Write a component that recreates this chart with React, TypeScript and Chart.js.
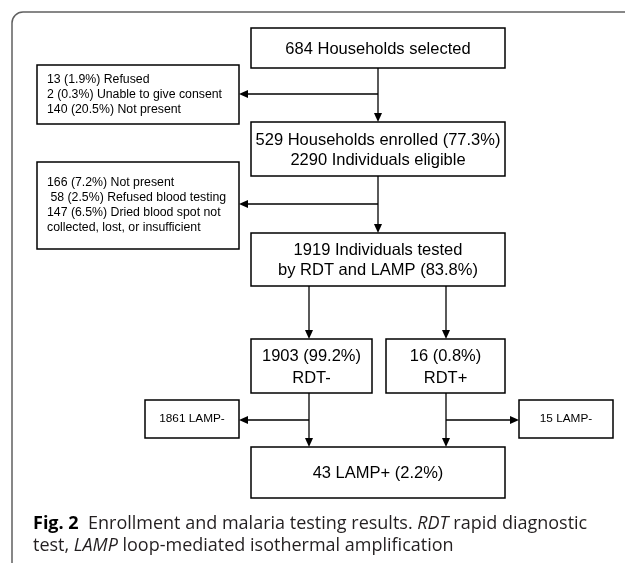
import { useEffect, useRef } from "react";
import { Chart, registerables } from "chart.js";

Chart.register(...registerables);

// ---------- data ----------
const mainSteps: string[][] = [
  ["684 Households selected"],
  ["529 Households enrolled (77.3%)", "2290 Individuals eligible"],
  ["1919 Individuals tested", "by RDT and LAMP (83.8%)"],
  ["1903 (99.2%)", "RDT-"],
  ["16 (0.8%)", "RDT+"],
  ["43 LAMP+ (2.2%)"],
];
const exclusions: string[][] = [
  ["13 (1.9%) Refused", "2 (0.3%) Unable to give consent", "140 (20.5%) Not present"],
  ["166 (7.2%) Not present", " 58 (2.5%) Refused blood testing", "147 (6.5%) Dried blood spot not", "collected, lost, or insufficient"],
];
const lampNegatives: string[][] = [["1861 LAMP-"], ["15 LAMP-"]];
const captionLine1 = [
  { t: "Fig. 2", s: "bold" },
  { t: "  Enrollment and malaria testing results. ", s: "normal" },
  { t: "RDT", s: "italic" },
  { t: " rapid diagnostic", s: "normal" },
];
const captionLine2 = [
  { t: "test, ", s: "normal" },
  { t: "LAMP", s: "italic" },
  { t: " loop-mediated isothermal amplification", s: "normal" },
];

// ---------- layout (in scale units) ----------
type Box = { x0: number; x1: number; y0: number; y1: number };
const mainBoxes: Box[] = [
  { x0: 251, x1: 505, y0: 28, y1: 68 },
  { x0: 251, x1: 505, y0: 122, y1: 176 },
  { x0: 251, x1: 505, y0: 233, y1: 286 },
  { x0: 251, x1: 372, y0: 339, y1: 393 },
  { x0: 386, x1: 505, y0: 339, y1: 393 },
  { x0: 251, x1: 505, y0: 447, y1: 498 },
];
const exclBoxes: Box[] = [
  { x0: 37, x1: 239, y0: 65, y1: 124 },
  { x0: 37, x1: 239, y0: 162, y1: 249 },
];
const lampBoxes: Box[] = [
  { x0: 145, x1: 239, y0: 400, y1: 438 },
  { x0: 519, x1: 613, y0: 400, y1: 438 },
];
// [x0,y0,x1,y1, arrowhead]
const connectors: [number, number, number, number, boolean][] = [
  [378, 68, 378, 122, true],
  [378, 94, 239, 94, true],
  [378, 176, 378, 233, true],
  [378, 204, 239, 204, true],
  [309, 286, 309, 339, true],
  [446, 286, 446, 339, true],
  [309, 393, 309, 447, true],
  [446, 393, 446, 447, true],
  [309, 420, 239, 420, true],
  [446, 420, 519, 420, true],
];

const SANS = '"Liberation Sans", Arial, sans-serif';
const CAP = '"Open Sans", sans-serif';

const flowPlugin = {
  id: "flow",
  afterDraw(chart: any) {
    const ctx: CanvasRenderingContext2D = chart.ctx;
    const xs = chart.scales.x;
    const ys = chart.scales.y;
    const px = (v: number) => xs.getPixelForValue(v);
    const py = (v: number) => ys.getPixelForValue(v);
    ctx.save();

    // outer frame
    ctx.strokeStyle = "#606060";
    ctx.lineWidth = 1.5;
    const r = 11;
    ctx.beginPath();
    ctx.moveTo(px(12), py(563));
    ctx.lineTo(px(12), py(12 + r));
    ctx.arcTo(px(12), py(12), px(12 + r), py(12), r);
    ctx.lineTo(px(625), py(12));
    ctx.stroke();

    const drawBox = (b: Box) => {
      ctx.strokeStyle = "#000";
      ctx.lineWidth = 1.5;
      ctx.fillStyle = "#fff";
      const x = px(b.x0), y = py(b.y0), w = px(b.x1) - x, h = py(b.y1) - y;
      ctx.fillRect(x, y, w, h);
      ctx.strokeRect(x, y, w, h);
    };

    // connectors
    connectors.forEach(([x0, y0, x1, y1, head]) => {
      const a = px(x0), b = py(y0), c = px(x1), d = py(y1);
      ctx.strokeStyle = "#000";
      ctx.fillStyle = "#000";
      ctx.lineWidth = 1.3;
      const ang = Math.atan2(d - b, c - a);
      const L = 9, hw = 4;
      const ex = c - Math.cos(ang) * L * 0.6, ey = d - Math.sin(ang) * L * 0.6;
      ctx.beginPath();
      ctx.moveTo(a, b);
      ctx.lineTo(ex, ey);
      ctx.stroke();
      if (head) {
        ctx.beginPath();
        ctx.moveTo(c, d);
        ctx.lineTo(c - Math.cos(ang) * L - Math.sin(ang) * hw, d - Math.sin(ang) * L + Math.cos(ang) * hw);
        ctx.lineTo(c - Math.cos(ang) * L + Math.sin(ang) * hw, d - Math.sin(ang) * L - Math.cos(ang) * hw);
        ctx.closePath();
        ctx.fill();
      }
    });

    ctx.fillStyle = "#000";
    ctx.textBaseline = "middle";
    // main boxes
    mainBoxes.forEach((b, i) => {
      drawBox(b);
      const lines = mainSteps[i];
      ctx.font = `16.5px ${SANS}`;
      ctx.fillStyle = "#000";
      ctx.textAlign = "center";
      const lh = lines.length > 1 && i >= 3 ? 22 : 20;
      const cy = (py(b.y0) + py(b.y1)) / 2;
      const cx = (px(b.x0) + px(b.x1)) / 2;
      lines.forEach((t, k) => {
        ctx.fillText(t, cx, cy + (k - (lines.length - 1) / 2) * lh + 1);
      });
    });
    // exclusion boxes
    exclBoxes.forEach((b, i) => {
      drawBox(b);
      const lines = exclusions[i];
      ctx.font = `12.3px ${SANS}`;
      ctx.fillStyle = "#000";
      ctx.textAlign = "left";
      const lh = 15;
      const cy = (py(b.y0) + py(b.y1)) / 2;
      lines.forEach((t, k) => {
        ctx.fillText(t, px(b.x0) + 10, cy + (k - (lines.length - 1) / 2) * lh);
      });
    });
    lampBoxes.forEach((b, i) => {
      drawBox(b);
      ctx.font = `11.8px ${SANS}`;
      ctx.fillStyle = "#000";
      ctx.textAlign = "center";
      ctx.fillText(lampNegatives[i][0], (px(b.x0) + px(b.x1)) / 2, (py(b.y0) + py(b.y1)) / 2);
    });

    // caption
    const drawRuns = (runs: { t: string; s: string }[], x: number, y: number) => {
      ctx.textAlign = "left";
      let cx = x;
      runs.forEach((r) => {
        const style = r.s === "italic" ? "italic " : "";
        const weight = r.s === "bold" ? "bold " : "";
        ctx.font = `${style}${weight}18px ${CAP}`;
        ctx.fillStyle = r.s === "bold" ? "#000" : "#231f20";
        ctx.fillText(r.t, cx, y);
        cx += ctx.measureText(r.t).width;
      });
    };
    drawRuns(captionLine1, px(33), py(524));
    drawRuns(captionLine2, px(33), py(546));

    ctx.restore();
  },
};

export default function App() {
  const ref = useRef<HTMLCanvasElement>(null);
  useEffect(() => {
    if (!ref.current) return;
    const centers = [...mainBoxes, ...exclBoxes, ...lampBoxes].map((b) => ({
      x: (b.x0 + b.x1) / 2,
      y: (b.y0 + b.y1) / 2,
    }));
    const chart = new Chart(ref.current, {
      type: "scatter",
      data: { datasets: [{ data: centers, pointRadius: 0 }] },
      options: {
        responsive: false,
        animation: false,
        layout: { padding: 0 },
        scales: {
          x: { type: "linear", min: 0, max: 625, display: false },
          y: { type: "linear", min: 0, max: 563, reverse: true, display: false },
        },
        plugins: { legend: { display: false }, tooltip: { enabled: false } },
      },
      plugins: [flowPlugin],
    });
    return () => chart.destroy();
  }, []);
  return (
    <div style={{ position: "absolute", left: 0, top: 0, width: 625, height: 563, background: "#fff" }}>
      <canvas ref={ref} width={625} height={563} />
    </div>
  );
}
